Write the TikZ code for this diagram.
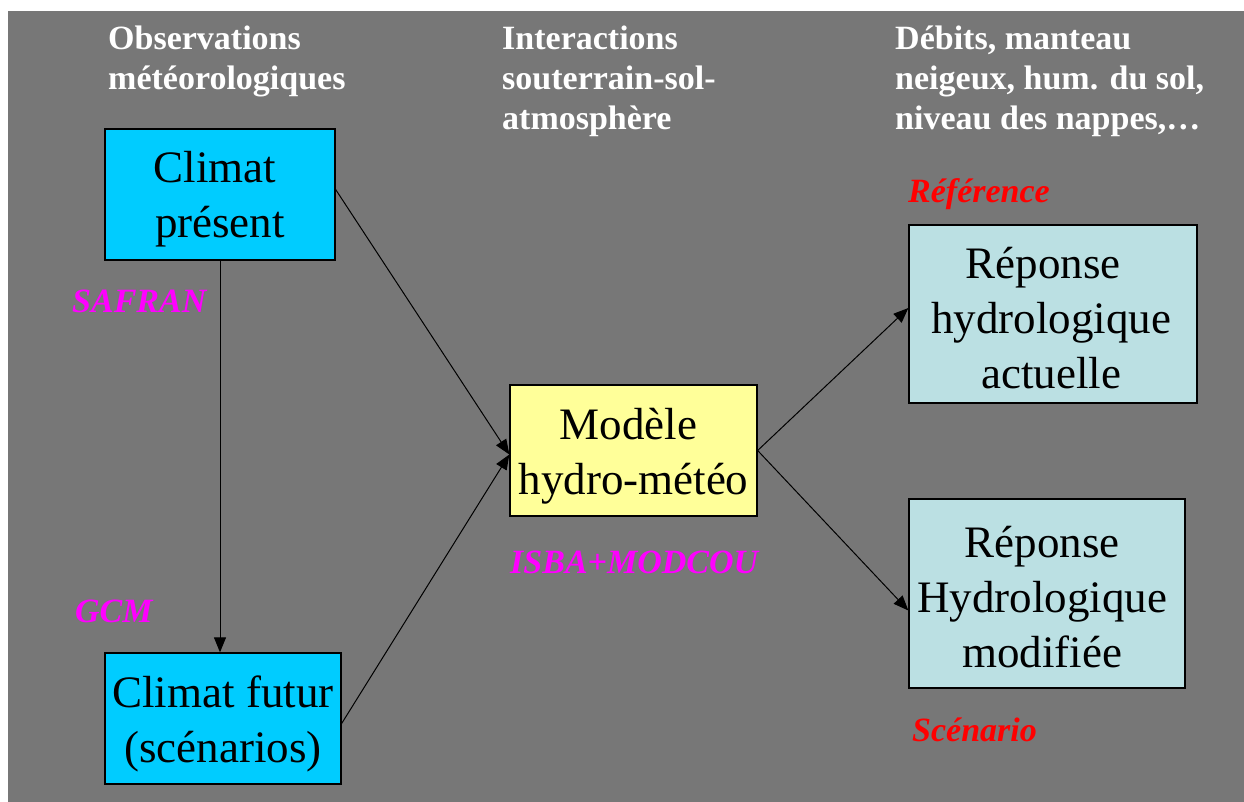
\documentclass[tikz,border=0pt]{standalone}
\usepackage{fontspec}
\setmainfont{Liberation Serif}
\usetikzlibrary{arrows.meta}
\definecolor{bggray}{HTML}{777777}
\definecolor{cyanbox}{HTML}{00CCFF}
\definecolor{yellowbox}{HTML}{FFFF99}
\definecolor{bluebox}{HTML}{BBE0E3}
\definecolor{magentalbl}{HTML}{FF00FF}
\definecolor{redlbl}{HTML}{FF0000}
\tikzset{
  boxnode/.style={draw=black, line width=1.3pt, rectangle, inner sep=0pt},
  boxtext/.style={align=center, inner sep=0pt, font=\fontsize{45}{55}\selectfont},
  header/.style={anchor=base west, align=left, inner sep=0pt, text=white,
    font=\fontsize{34}{40}\selectfont\bfseries},
  lbl/.style={anchor=base west, inner sep=0pt, font=\fontsize{34}{40}\selectfont\bfseries\itshape},
  conn/.style={line width=1pt, -{Triangle[length=15pt,width=12pt]}}
}
\begin{document}
\begin{tikzpicture}[x=1pt,y=-1pt]
\useasboundingbox (0,0) rectangle (1244,802);
\fill[white] (0,0) rectangle (1244,802);
\fill[bggray] (8,11) rectangle (1244,802);

\node[header] (h1) at (108,90) {Observations\\météorologiques};
\node[header] (h2) at (502,130) {Interactions\\souterrain-sol-\\atmosphère};
\node[header] (h3) at (895,130) {Débits, manteau\\neigeux, hum. du sol,\\niveau des nappes,…};

\node[boxnode, fill=cyanbox, minimum width=230pt, minimum height=131pt] (cp) at (220,194.5) {};
\node[boxnode, fill=cyanbox, minimum width=236pt, minimum height=131pt] (cf) at (223,718.5) {};
\node[boxnode, fill=yellowbox, minimum width=247pt, minimum height=131pt] (mod) at (633.5,450.5) {};
\node[boxnode, fill=bluebox, minimum width=288pt, minimum height=178pt] (ra) at (1053,314) {};
\node[boxnode, fill=bluebox, minimum width=276pt, minimum height=189pt] (rm) at (1047,593.5) {};

\node[boxtext] (cpt) at ([yshift=-5pt]cp.center) {Climat\hspace*{10pt}\\présent};
\node[boxtext] (cft) at ([yshift=-5pt]cf.center) {Climat futur\\(scénarios)};
\node[boxtext] (modt) at ([yshift=-6pt]mod.center) {Modèle\hspace*{10pt}\\hydro-météo};
\node[boxtext] (rat) at ([xshift=-2pt,yshift=-4pt]ra.center) {Réponse\hspace*{16pt}\\hydrologique\\actuelle};
\node[boxtext] (rmt) at ([xshift=-5pt,yshift=-4pt]rm.center) {Réponse\\Hydrologique\\modifiée};

\node[lbl, text=magentalbl] (safran) at (72,312) {SAFRAN};
\node[lbl, text=magentalbl] (gcm) at (75,622) {GCM};
\node[lbl, text=magentalbl] (isba) at (510,573) {ISBA+MODCOU};
\node[lbl, text=redlbl] (ref) at (908,203) {Référence};
\node[lbl, text=redlbl] (scen) at (912,741) {Scénario};

\draw[conn] (cp.south) -- (cp.south |- cf.north);
\draw[conn] ([yshift=5pt]cp.east) -- ([yshift=-4pt]mod.west);
\draw[conn] ([yshift=-5pt]cf.east) -- ([yshift=-4pt]mod.west);
\draw[conn] (mod.east) -- ([yshift=6pt]ra.west);
\draw[conn] (mod.east) -- ([yshift=-17pt]rm.west);
\end{tikzpicture}
\end{document}
